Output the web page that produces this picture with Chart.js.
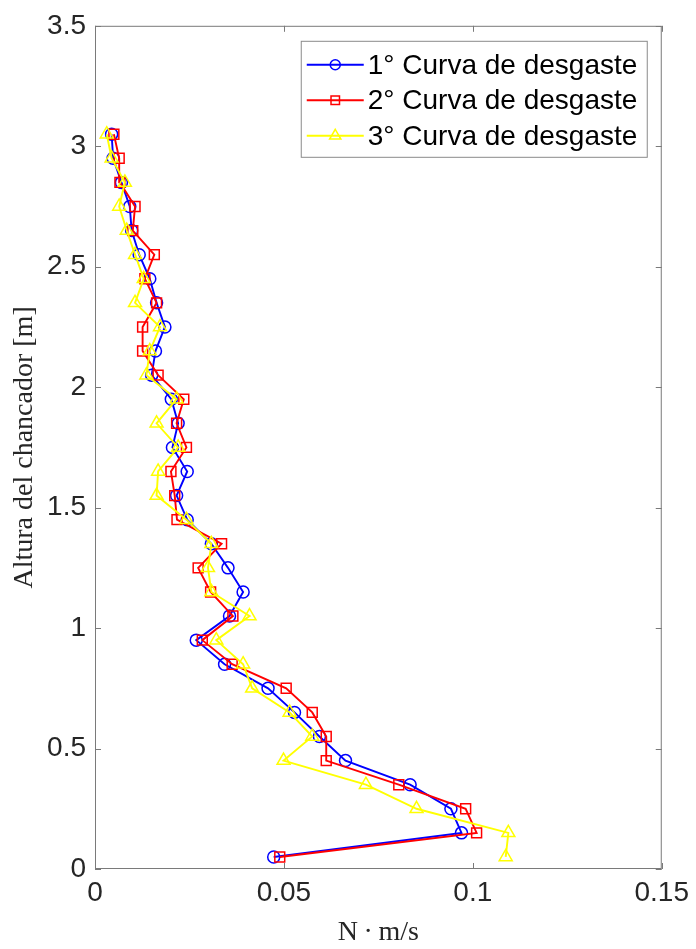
<!DOCTYPE html>
<html>
<head>
<meta charset="utf-8">
<script src="https://cdn.jsdelivr.net/npm/chart.js@4.4.0/dist/chart.umd.min.js"></script>
<style>
body { margin: 0; background: #fff; }
#wrap { width: 696px; height: 949px; }
</style>
</head>
<body>
<div id="wrap"><canvas id="chart" width="696" height="949"></canvas></div>
<script>
// alturas de medicion (eje y)
var alturas = [0.05, 0.15, 0.25, 0.35, 0.45, 0.55, 0.65, 0.75, 0.85, 0.95,
    1.05, 1.15, 1.25, 1.35, 1.45, 1.55, 1.65, 1.75, 1.85, 1.95,
    2.05, 2.15, 2.25, 2.35, 2.45, 2.55, 2.65, 2.75, 2.85, 2.95, 3.05];

// potencia de desgaste N·m/s
var curva1 = [0.0473, 0.0970, 0.0942, 0.0834, 0.0663, 0.0594, 0.0528, 0.0458, 0.0343, 0.0268,
    0.0356, 0.0392, 0.0352, 0.0308, 0.0244, 0.0216, 0.0244, 0.0205, 0.0220, 0.0202,
    0.0150, 0.0160, 0.0185, 0.0163, 0.0145, 0.0117, 0.0097, 0.0092, 0.0070, 0.0048, 0.0044];
var curva2 = [0.0489, 0.1010, 0.0981, 0.0804, 0.0612, 0.0612, 0.0575, 0.0506, 0.0363, 0.0284,
    0.0365, 0.0306, 0.0273, 0.0335, 0.0217, 0.0211, 0.0201, 0.0242, 0.0216, 0.0235,
    0.0167, 0.0126, 0.0126, 0.0163, 0.0132, 0.0157, 0.0100, 0.0106, 0.0066, 0.0064, 0.0050];
var curva3 = [0.1087, 0.1094, 0.0851, 0.0717, 0.0499, 0.0575, 0.0515, 0.0416, 0.0392, 0.0321,
    0.0409, 0.0308, 0.0299, 0.0308, 0.0242, 0.0163, 0.0167, 0.0220, 0.0163, 0.0216,
    0.0136, 0.0145, 0.0172, 0.0106, 0.0129, 0.0106, 0.0084, 0.0064, 0.0079, 0.0044, 0.0031];

var nombres = ['1° Curva de desgaste', '2° Curva de desgaste', '3° Curva de desgaste'];

var ticksX = [0, 0.05, 0.1, 0.15];
var etiquetasX = ['0', '0.05', '0.1', '0.15'];
var ticksY = [0, 0.5, 1, 1.5, 2, 2.5, 3, 3.5];
var etiquetasY = ['0', '0.5', '1', '1.5', '2', '2.5', '3', '3.5'];

function puntos(serie) {
    return serie.map(function (v, i) { return { x: v, y: alturas[i] }; });
}

function serie(nombre, datos, color, forma, radio, orden) {
    return {
        label: nombre,
        data: puntos(datos),
        showLine: true,
        borderColor: color,
        backgroundColor: color,
        borderWidth: 1.9,
        pointStyle: forma,
        pointRadius: radio,
        pointBorderWidth: 1.5,
        pointBorderColor: color,
        pointBackgroundColor: 'rgba(0,0,0,0)',
        tension: 0,
        clip: false,
        order: orden
    };
}

// caja y ticks hacia adentro (estilo matlab)
var cajaEjes = {
    id: 'cajaEjes',
    afterDraw: function (chart) {
        var ctx = chart.ctx;
        var a = chart.chartArea;
        var sx = chart.scales.x, sy = chart.scales.y;
        ctx.save();
        ctx.strokeStyle = '#7a7a7a';
        ctx.lineWidth = 1;
        ctx.strokeRect(a.left + 0.5, a.top + 0.5, a.right - a.left - 1, a.bottom - a.top - 1);
        ctx.beginPath();
        ticksX.forEach(function (v) {
            var px = Math.round(sx.getPixelForValue(v)) + 0.5;
            ctx.moveTo(px, a.bottom); ctx.lineTo(px, a.bottom - 6);
            ctx.moveTo(px, a.top); ctx.lineTo(px, a.top + 6);
        });
        ticksY.forEach(function (v) {
            var py = Math.round(sy.getPixelForValue(v)) + 0.5;
            ctx.moveTo(a.left, py); ctx.lineTo(a.left + 6, py);
            ctx.moveTo(a.right, py); ctx.lineTo(a.right - 6, py);
        });
        ctx.stroke();
        ctx.restore();
    }
};

// leyenda dentro del grafico
var leyenda = {
    id: 'leyenda',
    afterDatasetsDraw: function (chart) {
        var ctx = chart.ctx;
        var a = chart.chartArea;
        var w = 346, h = 116;
        var x0 = a.right - 15 - w, y0 = a.top + 15;
        ctx.save();
        ctx.fillStyle = '#fff';
        ctx.fillRect(x0, y0, w, h);
        ctx.strokeStyle = '#8a8a8a';
        ctx.lineWidth = 1;
        ctx.strokeRect(x0 + 0.5, y0 + 0.5, w, h);
        ctx.font = '28px "Liberation Sans", Arial, sans-serif';
        ctx.textBaseline = 'middle';
        var lista = [0, 1, 2];
        lista.forEach(function (i) {
            var ds = chart.data.datasets[i];
            var cy = y0 + 24 + i * 35.5;
            ctx.strokeStyle = ds.borderColor;
            ctx.lineWidth = 1.9;
            ctx.beginPath();
            ctx.moveTo(x0 + 6, cy); ctx.lineTo(x0 + 63, cy);
            ctx.stroke();
            ctx.fillStyle = 'rgba(0,0,0,0)';
            ctx.lineWidth = 1.5;
            Chart.helpers.drawPoint(ctx, { pointStyle: ds.pointStyle, radius: ds.pointRadius - 1, rotation: 0, borderWidth: 1.5 }, x0 + 34.5, cy);
            ctx.fillStyle = '#000';
            ctx.fillText(ds.label, x0 + 67, cy + 1);
        });
        ctx.restore();
    }
};

var context = document.querySelector('#chart').getContext('2d');
new Chart(context, {
    type: 'scatter',
    data: {
        datasets: [
            serie(nombres[0], curva1, '#0000ff', 'circle', 6, 2),
            serie(nombres[1], curva2, '#ff0000', 'rect', 7, 1),
            serie(nombres[2], curva3, '#ffff00', 'triangle', 7.5, 0)
        ]
    },
    options: {
        responsive: false,
        animation: false,
        layout: { padding: { top: 22, right: 33, bottom: 0, left: 0 } },
        plugins: {
            legend: { display: false },
            tooltip: { enabled: false }
        },
        scales: {
            x: {
                type: 'linear',
                min: 0,
                max: 0.15,
                grid: { display: false, drawTicks: false },
                border: { display: false },
                afterBuildTicks: function (scale) {
                    scale.ticks = ticksX.map(function (v) { return { value: v }; });
                },
                afterFit: function (scale) { scale.height = 80; },
                ticks: {
                    padding: 7,
                    maxRotation: 0,
                    color: '#262626',
                    font: { family: '"Liberation Sans", Arial, sans-serif', size: 28 },
                    callback: function (v, i) { return etiquetasX[i]; }
                },
                title: {
                    display: true,
                    text: 'N\u2009·\u2009m/s',
                    color: '#262626',
                    padding: { top: 0, bottom: 0 },
                    font: { family: '"Liberation Serif", "Times New Roman", serif', size: 28 }
                }
            },
            y: {
                type: 'linear',
                min: 0,
                max: 3.5,
                grid: { display: false, drawTicks: false },
                border: { display: false },
                afterBuildTicks: function (scale) {
                    scale.ticks = ticksY.map(function (v) { return { value: v }; });
                },
                afterFit: function (scale) { scale.width = 95; },
                ticks: {
                    padding: 9,
                    color: '#262626',
                    font: { family: '"Liberation Sans", Arial, sans-serif', size: 28 },
                    callback: function (v, i) { return etiquetasY[i]; }
                },
                title: {
                    display: true,
                    text: 'Altura del chancador [m]',
                    color: '#262626',
                    padding: { top: 8, bottom: 0 },
                    font: { family: '"Liberation Serif", "Times New Roman", serif', size: 28 }
                }
            }
        }
    },
    plugins: [cajaEjes, leyenda]
});
</script>
</body>
</html>
